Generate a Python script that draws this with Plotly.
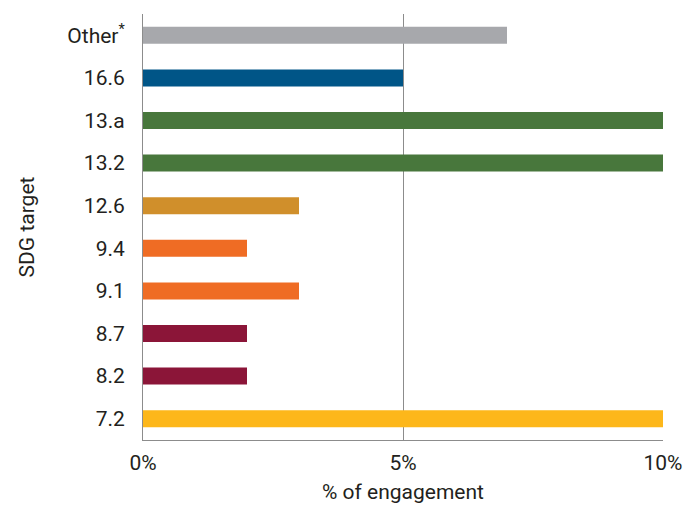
import plotly.graph_objects as go

categories = ["7.2", "8.2", "8.7", "9.1", "9.4", "12.6", "13.2", "13.a", "16.6", "Other<sup>*</sup>"]
values = [10, 2, 2, 3, 2, 3, 10, 10, 5, 7]
colors = ["#FDB71A", "#8B1538", "#8B1538", "#EF6C24", "#EF6C24", "#D08F2B",
          "#48773C", "#48773C", "#005587", "#A7A8AC"]
tick_vals = [0, 5, 10]
tick_text = ["0%", "5%", "10%"]

fig = go.Figure(go.Bar(
    x=values, y=categories, orientation="h",
    marker=dict(color=colors, line=dict(width=0)),
    hoverinfo="skip",
))

font = "Roboto, Noto Sans, sans-serif"
# page body has an 8px margin, so the figure is offset by 8px
fig.update_layout(
    width=692, height=501,
    margin=dict(l=135, r=37, t=6, b=69),
    paper_bgcolor="white", plot_bgcolor="white",
    bargap=0.6,
    showlegend=False,
    font=dict(family=font, size=21, color="#231F20"),
)
fig.update_xaxes(
    range=[0, 10], tickvals=tick_vals, ticktext=tick_text,
    showgrid=True, gridcolor="#8c8c8c", gridwidth=1,
    showline=True, linecolor="#8c8c8c", linewidth=1,
    zeroline=False, ticks="outside", ticklen=4, tickcolor="rgba(0,0,0,0)",
    tickfont=dict(size=21),
    automargin=False,
    title=dict(text="% of engagement", font=dict(size=21), standoff=10),
)
fig.update_yaxes(
    categoryorder="array", categoryarray=categories,
    showline=True, linecolor="#8c8c8c", linewidth=1,
    showgrid=False, ticks="outside", ticklen=13, tickcolor="rgba(0,0,0,0)",
    tickfont=dict(size=21),
    automargin=False,
    title=dict(text="SDG target", font=dict(size=21), standoff=26),
)

fig.write_html("out.html")
